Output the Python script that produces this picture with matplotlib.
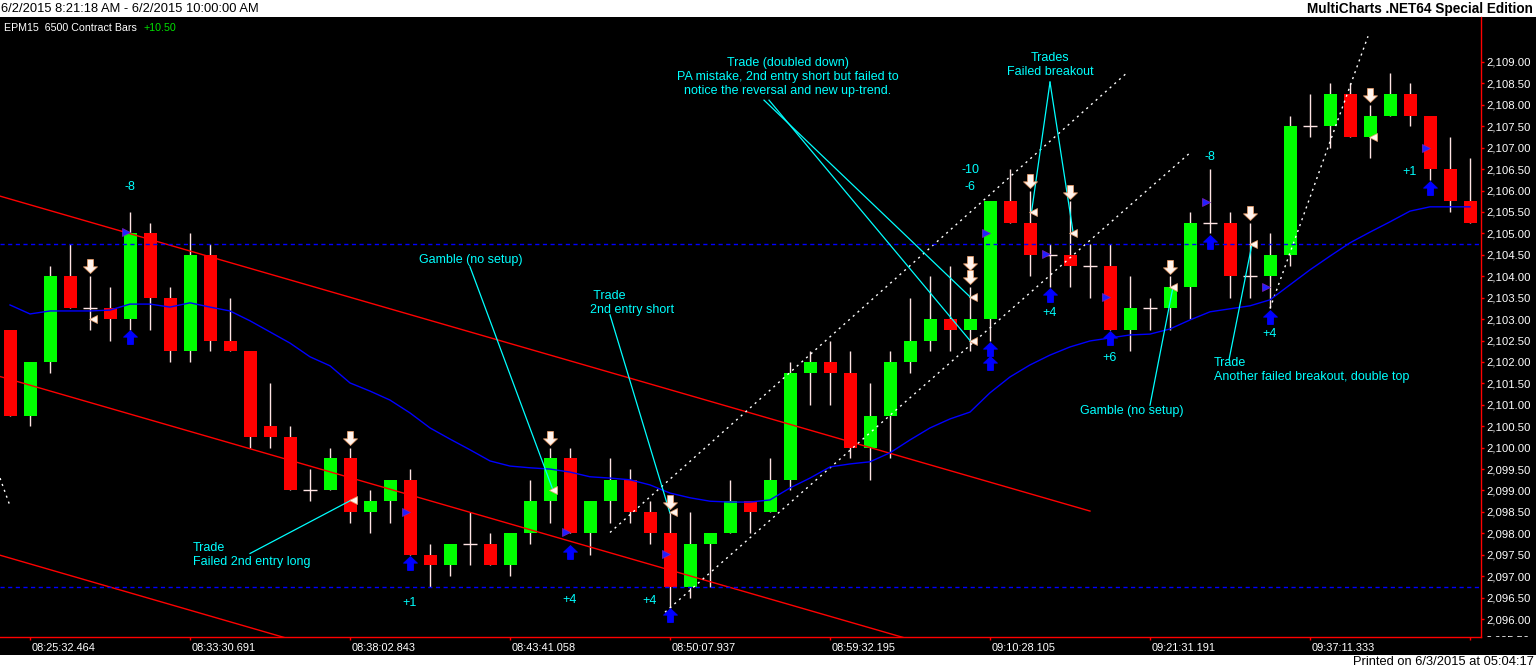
import matplotlib
matplotlib.use('Agg')
import matplotlib.pyplot as plt
from matplotlib.patches import Rectangle
from matplotlib.path import Path
from matplotlib.transforms import Bbox, TransformedBbox, ScaledTranslation, blended_transform_factory

plt.rcParams['font.family'] = ['Liberation Sans', 'DejaVu Sans']

# EPM15 6500 contract bars (open, high, low, close)
bar_open = [2102.75, 2100.75, 2102.0, 2104.0, 2103.25, 2103.25, 2103.0, 2105.0, 2103.5, 2102.25,
            2104.5, 2102.5, 2102.25, 2100.5, 2100.25, 2099.0, 2099.0, 2099.75, 2098.5, 2098.75,
            2099.25, 2097.5, 2097.25, 2097.75, 2097.75, 2097.25, 2098.0, 2098.75, 2099.75, 2098.0,
            2098.75, 2099.25, 2098.5, 2098.0, 2096.75, 2097.75, 2098.0, 2098.75, 2098.5, 2099.25,
            2101.75, 2102.0, 2101.75, 2100.0, 2100.75, 2102.0, 2102.5, 2103.0, 2102.75, 2103.0,
            2105.75, 2105.25, 2104.5, 2104.5, 2104.25, 2104.25, 2102.75, 2103.25, 2103.25, 2103.75,
            2105.25, 2105.25, 2104.0, 2104.0, 2104.5, 2107.5, 2107.5, 2108.25, 2107.25, 2107.75,
            2108.25, 2107.75, 2106.5, 2105.75]
bar_high = [2102.75, 2102.0, 2104.25, 2104.75, 2104.0, 2103.75, 2105.5, 2105.25, 2103.75, 2105.0,
            2104.75, 2103.5, 2102.25, 2101.5, 2100.5, 2099.5, 2100.0, 2100.0, 2099.0, 2099.25,
            2099.5, 2097.75, 2097.75, 2098.5, 2098.0, 2098.0, 2099.25, 2100.0, 2100.0, 2098.75,
            2099.75, 2099.5, 2098.75, 2098.5, 2098.5, 2098.0, 2099.25, 2098.75, 2099.75, 2102.0,
            2102.25, 2102.5, 2102.25, 2101.5, 2102.25, 2103.5, 2104.0, 2104.25, 2103.75, 2105.75,
            2106.5, 2106.0, 2104.75, 2105.75, 2104.75, 2104.75, 2104.0, 2103.5, 2104.0, 2105.5,
            2106.5, 2105.5, 2105.25, 2105.0, 2107.75, 2108.25, 2108.5, 2108.5, 2108.0, 2108.75,
            2108.5, 2107.75, 2107.25, 2106.75]
bar_low = [2100.75, 2100.5, 2101.75, 2103.25, 2102.75, 2102.5, 2102.75, 2102.75, 2102.0, 2102.0,
           2102.25, 2102.25, 2100.0, 2100.0, 2099.0, 2098.75, 2099.0, 2098.25, 2098.0, 2098.25,
           2097.5, 2096.75, 2097.0, 2097.25, 2097.25, 2097.0, 2097.75, 2098.25, 2098.0, 2097.5,
           2098.25, 2098.25, 2097.75, 2096.25, 2096.5, 2096.75, 2098.0, 2098.0, 2098.5, 2099.0,
           2101.0, 2101.0, 2099.75, 2099.25, 2099.75, 2101.75, 2102.25, 2102.25, 2102.25, 2102.5,
           2105.25, 2104.0, 2103.75, 2103.75, 2103.5, 2102.75, 2102.25, 2102.75, 2102.75, 2103.0,
           2105.0, 2103.5, 2103.5, 2103.25, 2104.25, 2107.25, 2107.0, 2107.25, 2106.75, 2107.75,
           2107.5, 2106.25, 2105.5, 2105.25]
bar_close = [2100.75, 2102.0, 2104.0, 2103.25, 2103.25, 2103.0, 2105.0, 2103.5, 2102.25, 2104.5,
             2102.5, 2102.25, 2100.25, 2100.25, 2099.0, 2099.0, 2099.75, 2098.5, 2098.75, 2099.25,
             2097.5, 2097.25, 2097.75, 2097.75, 2097.25, 2098.0, 2098.75, 2099.75, 2098.0, 2098.75,
             2099.25, 2098.5, 2098.0, 2096.75, 2097.75, 2098.0, 2098.75, 2098.5, 2099.25, 2101.75,
             2102.0, 2101.75, 2100.0, 2100.75, 2102.0, 2102.5, 2103.0, 2102.75, 2103.0, 2105.75,
             2105.25, 2104.5, 2104.5, 2104.25, 2104.25, 2102.75, 2103.25, 2103.25, 2103.75, 2105.25,
             2105.25, 2104.0, 2104.0, 2104.5, 2107.5, 2107.5, 2108.25, 2107.25, 2107.75, 2108.25,
             2107.75, 2106.5, 2105.75, 2105.25]

# blue moving average
ma_values = [2103.33, 2103.12, 2103.19, 2103.19, 2103.19, 2103.21, 2103.35, 2103.35, 2103.28, 2103.38,
             2103.28, 2103.19, 2102.96, 2102.70, 2102.44, 2102.12, 2101.91, 2101.51, 2101.32, 2101.11,
             2100.81, 2100.46, 2100.20, 2099.95, 2099.69, 2099.57, 2099.53, 2099.50, 2099.43, 2099.32,
             2099.29, 2099.25, 2099.13, 2098.94, 2098.83, 2098.75, 2098.73, 2098.73, 2098.78, 2099.06,
             2099.29, 2099.55, 2099.62, 2099.67, 2099.88, 2100.18, 2100.46, 2100.67, 2100.83, 2101.28,
             2101.65, 2101.93, 2102.16, 2102.35, 2102.49, 2102.56, 2102.63, 2102.65, 2102.77, 2102.98,
             2103.17, 2103.24, 2103.31, 2103.45, 2103.80, 2104.15, 2104.47, 2104.78, 2105.03, 2105.27,
             2105.52, 2105.62, 2105.62, 2105.62]

time_tick_bars = [1, 9, 17, 25, 33, 41, 49, 57, 65, 73]
time_labels = ['08:25:32.464', '08:33:30.691', '08:38:02.843', '08:43:41.058', '08:50:07.937',
               '08:59:32.195', '09:10:28.105', '09:21:31.191', '09:37:11.333', '']
price_ticks = [2096.0 + 0.5 * k for k in range(27)]

level_prices = [2104.75, 2096.75]

# drawn trendlines: ((bar, price), (bar, price))
red_channel = [((-0.5, 2105.87), (54.0, 2098.52)),
               ((-0.5, 2101.66), (50.0, 2094.85)),
               ((-0.5, 2097.49), (20.0, 2094.72))]
dotted_lines = [((32.75, 2096.16), (59.0, 2106.88)),
                ((30.0, 2098.02), (55.9, 2108.77)),
                ((63.0, 2103.25), (67.9, 2109.6)),
                ((-0.5, 2099.29), (0.0, 2098.64))]

# trade markers
sell_arrow_bars = [4, 17, 27, 33, 48, 48, 51, 53, 58, 62, 68]
sell_arrow_prices = [2104.24, 2100.23, 2100.23, 2098.73, 2104.31, 2103.98, 2106.22, 2105.97, 2104.22, 2105.48, 2108.23]
buy_arrow_bars = [6, 20, 28, 33, 49, 49, 52, 55, 60, 63, 71]
buy_arrow_prices = [2102.58, 2097.31, 2097.56, 2096.09, 2102.30, 2101.98, 2103.56, 2102.56, 2104.80, 2103.05, 2106.06]
entry_bars = [6, 20, 28, 33, 49, 52, 55, 60, 63, 71]
entry_prices = [2105.03, 2098.50, 2098.04, 2097.52, 2105.01, 2104.52, 2103.52, 2105.73, 2103.75, 2106.99]
exit_bars = [4, 17, 27, 33, 48, 48, 51, 53, 58, 62, 68]
exit_prices = [2103.0, 2098.78, 2099.01, 2098.50, 2103.52, 2102.49, 2105.50, 2105.01, 2103.75, 2104.75, 2107.25]

pnl_text = ['-8', '+1', '+4', '+4', '-10', '-6', '+4', '+6', '-8', '+4', '+1']
pnl_bars = [6, 20, 28, 32, 48, 48, 52, 55, 60, 63, 70]
pnl_prices = [2106.08, 2096.37, 2096.44, 2096.42, 2106.48, 2106.08, 2103.14, 2102.09, 2106.78, 2102.65, 2106.43]

note_texts = ['Trade\nFailed 2nd entry long',
              'Gamble (no setup)',
              ' Trade\n2nd entry short',
              'Trade (doubled down)\nPA mistake, 2nd entry short but failed to\nnotice the reversal and new up-trend.',
              'Trades\nFailed breakout',
              'Gamble (no setup)',
              'Trade\nAnother failed breakout, double top']
note_bars = [9.15, 20.45, 29.0, 38.9, 52.0, 53.5, 60.2]
note_prices = [2097.49, 2104.38, 2103.38, 2108.65, 2108.93, 2100.86, 2101.81]
note_align = ['left', 'left', 'left', 'center', 'center', 'left', 'left']
note_lines = [((12.0, 2097.53), (17.08, 2098.78)),
              ((23.0, 2104.22), (27.15, 2099.01)),
              ((30.0, 2103.10), (33.0, 2098.47)),
              ((37.7, 2108.11), (48.0, 2103.52)),
              ((37.95, 2108.11), (48.0, 2102.50)),
              ((52.0, 2108.53), (51.08, 2105.51)),
              ((52.0, 2108.53), (53.15, 2105.04)),
              ((57.0, 2100.99), (58.15, 2103.75)),
              ((60.95, 2102.05), (62.1, 2104.75))]

W, H = 1536, 670
fig = plt.figure(figsize=(W / 100, H / 100), dpi=100, facecolor='white')
fig.patches.append(Rectangle((0, 15 / H), 1, (655 - 17) / H, transform=fig.transFigure,
                             facecolor='black', edgecolor='none', zorder=-10))
ax_bottom = (H - 637.3) / H
ax = fig.add_axes([0, ax_bottom, 1481 / W, (637.3 - 17) / H])
ax.set_zorder(1)
ax.set_facecolor('black')

up_arrow = Path([(0, 1), (1, 0.05), (0.42, 0.05), (0.42, -1), (-0.42, -1), (-0.42, 0.05), (-1, 0.05), (0, 1)],
                [Path.MOVETO] + [Path.LINETO] * 6 + [Path.CLOSEPOLY])
down_arrow = Path([(x, -y) for x, y in up_arrow.vertices], up_arrow.codes)

# candles
wick = '#ffe4e4'
for i in range(len(bar_open)):
    o, h, l, c = bar_open[i], bar_high[i], bar_low[i], bar_close[i]
    ax.vlines(i, l, h, color=wick, lw=1, zorder=2)
    if o == c:
        ax.hlines(o, i - 0.33, i + 0.33, color=wick, lw=1, zorder=3)
    else:
        col = '#00ff00' if c > o else '#ff0000'
        ax.add_patch(Rectangle((i - 0.325, min(o, c)), 0.65, abs(c - o),
                               facecolor=col, edgecolor='none', zorder=3, antialiased=False))

for (x0, y0), (x1, y1) in red_channel:
    ax.plot([x0, x1], [y0, y1], color='#ff0000', lw=1, zorder=4)
for (x0, y0), (x1, y1) in dotted_lines:
    ax.plot([x0, x1], [y0, y1], color='white', lw=1, dashes=(1.5, 3), zorder=4)

ax.plot(range(len(ma_values)), ma_values, color='#0000ff', lw=1, zorder=4)
for p in level_prices:
    ax.axhline(p, color='#0000ff', lw=1, dashes=(3, 2.5), zorder=4)

# trade markers
ax.plot(sell_arrow_bars, sell_arrow_prices, ls='none', marker=down_arrow, ms=10,
        mfc='#fff4ee', mec='#e8a070', mew=0.6, zorder=6)
ax.plot(buy_arrow_bars, buy_arrow_prices, ls='none', marker=up_arrow, ms=10,
        mfc='#0000ff', mec='#0000ff', mew=0.6, zorder=6)
ax.plot([b - 0.2 for b in entry_bars], entry_prices, ls='none', marker='>', ms=5.5,
        mfc='#2020ff', mec='#8020c0', mew=0.5, zorder=6)
ax.plot([b + 0.15 for b in exit_bars], exit_prices, ls='none', marker='<', ms=5.5,
        mfc='#fff4ee', mec='#e8a070', mew=0.5, zorder=6)

cyan = '#00ffff'
for t, b, p in zip(pnl_text, pnl_bars, pnl_prices):
    ax.text(b, p, t, color=cyan, fontsize=9, ha='center', va='center', zorder=7)

for t, b, p, ha in zip(note_texts, note_bars, note_prices, note_align):
    ax.text(b, p, t, color=cyan, fontsize=9, ha=ha, va='center', multialignment=ha,
            linespacing=1.2, zorder=7)
for (x0, y0), (x1, y1) in note_lines:
    ax.plot([x0, x1], [y0, y1], color=cyan, lw=0.9, zorder=5)

# axes
ax.set_xlim(-0.5, 73.55)
ax.set_ylim(2095.574, 2110.05)
for s in ['top', 'left']:
    ax.spines[s].set_visible(False)
for s in ['right', 'bottom']:
    ax.spines[s].set_color('#ff0000')
    ax.spines[s].set_linewidth(1)
ax.yaxis.tick_right()
ax.set_yticks(price_ticks)
ax.set_yticklabels([f'{v:,.2f}' for v in price_ticks])
ax.tick_params(axis='y', colors='#ff0000', labelcolor='white', length=2.5, width=1, pad=1.5, labelsize=8.2)
ax.set_xticks(time_tick_bars)
ax.set_xticklabels(time_labels)
ax.tick_params(axis='x', colors='#ff0000', labelcolor='white', length=2.5, width=1, pad=1.5, labelsize=7.9)
for lbl in ax.get_xticklabels():
    lbl.set_horizontalalignment('left')
    lbl.set_transform(lbl.get_transform() + ScaledTranslation(2 / 100, 0, fig.dpi_scale_trans))

# partly hidden lowest price label
cut = ax.text(1.0, 2095.5, '2,095.50', color='white', fontsize=8.2, va='center', ha='left',
              transform=blended_transform_factory(ax.transAxes, ax.transData)
              + ScaledTranslation(4.5 / 100, 0, fig.dpi_scale_trans))
cut.set_clip_box(TransformedBbox(Bbox([[0, ax_bottom], [1, 1]]), fig.transFigure))
cut.set_clip_on(True)

# header, legend and footer
fig.text(1 / W, 1 - 8.5 / H, '6/2/2015 8:21:18 AM - 6/2/2015 10:00:00 AM', fontsize=9.3,
         ha='left', va='center', color='black')
fig.text(1533 / W, 1 - 8.5 / H, 'MultiCharts .NET64 Special Edition', fontsize=9.8,
         weight='bold', ha='right', va='center', color='black')
fig.text(4 / W, 1 - 28 / H, 'EPM15  6500 Contract Bars', fontsize=7.7, color='white',
         ha='left', va='center', zorder=5)
fig.text(143 / W, 1 - 28 / H, '+10.50', fontsize=7.7, color='#00e000', ha='left', va='center', zorder=5)
fig.text(1534 / W, (H - 662) / H, 'Printed on 6/3/2015 at 05:04:17', fontsize=9.3,
         ha='right', va='center', color='black')

fig.savefig('out.png', dpi=100, facecolor='white')
